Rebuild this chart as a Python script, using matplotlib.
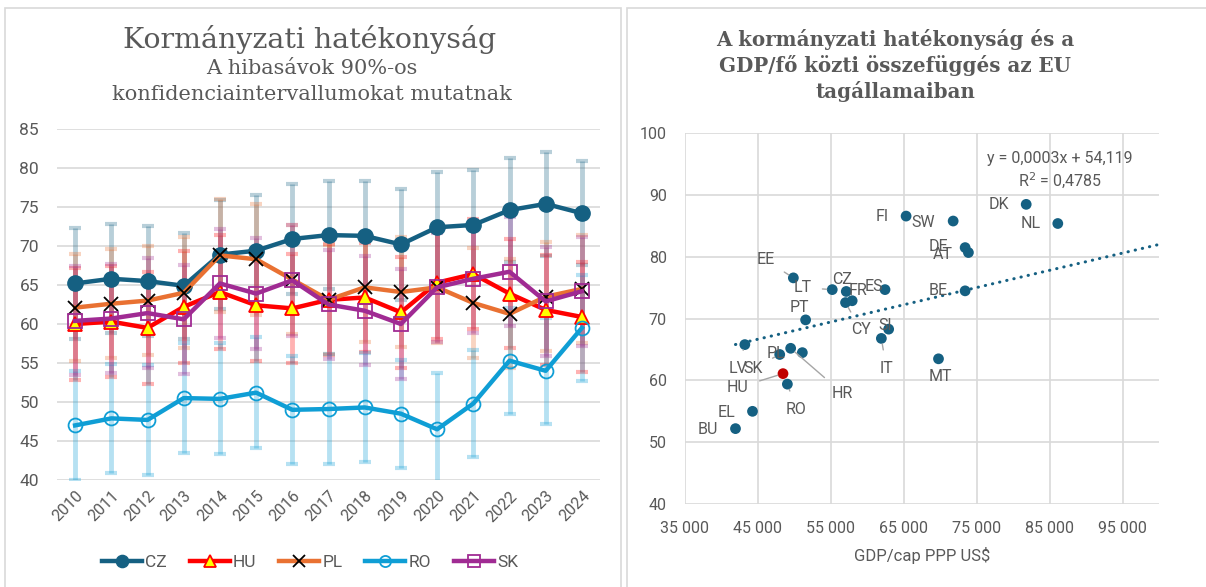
import matplotlib
matplotlib.use("Agg")
import matplotlib.pyplot as plt
from matplotlib.patches import Rectangle
from matplotlib.ticker import FuncFormatter


# -----------------------------
# Data: left chart (government effectiveness, 2010-2024)
# -----------------------------
YEARS = ["2010", "2011", "2012", "2013", "2014", "2015", "2016", "2017",
         "2018", "2019", "2020", "2021", "2022", "2023", "2024"]

CZ = [65.2, 65.8, 65.5, 64.9, 68.9, 69.4, 70.9, 71.4, 71.3, 70.2, 72.4, 72.7, 74.6, 75.4, 74.2]
HU = [60.0, 60.3, 59.5, 62.2, 64.1, 62.4, 62.0, 63.1, 63.4, 61.5, 65.3, 66.4, 63.9, 61.8, 60.9]
PL = [62.1, 62.6, 63.0, 64.0, 68.8, 68.3, 65.7, 63.1, 64.7, 64.1, 64.7, 62.7, 61.3, 63.5, 64.5]
RO = [47.0, 47.9, 47.7, 50.5, 50.4, 51.2, 49.0, 49.1, 49.3, 48.5, 46.5, 49.8, 55.3, 54.0, 59.5]
SK = [60.4, 60.7, 61.4, 60.6, 65.2, 63.9, 65.6, 62.5, 61.7, 60.0, 64.7, 65.8, 66.7, 62.9, 64.2]

CZ_ERR = [7.1, 7.0, 7.1, 6.8, 7.0, 7.1, 7.1, 6.9, 7.0, 7.1, 7.1, 7.0, 6.7, 6.7, 6.7]
HU_ERR = [7.2, 7.1, 7.2, 7.2, 7.3, 7.1, 7.0, 7.1, 7.0, 7.1, 7.2, 7.1, 7.0, 7.0, 7.0]
PL_ERR = [6.9, 7.0, 7.0, 7.1, 7.2, 7.1, 7.0, 7.0, 7.0, 7.0, 7.1, 7.0, 7.0, 7.0, 6.9]
RO_ERR = [7.0, 7.0, 7.1, 7.1, 7.1, 7.1, 6.9, 7.0, 7.0, 6.9, 7.2, 6.9, 6.8, 6.8, 6.8]
SK_ERR = [7.0, 7.0, 7.1, 7.0, 7.0, 7.1, 7.1, 7.0, 7.0, 7.1, 7.0, 7.0, 7.0, 7.0, 7.0]

# -----------------------------
# Data: right chart (GDP/cap vs government effectiveness)
# -----------------------------
COUNTRIES = ["FI", "SW", "DK", "NL", "DE", "AT", "BE", "ES", "FR", "CZ", "LT", "EE",
             "PT", "CY", "SI", "IT", "MT", "HR", "PL", "SK", "LV", "HU", "RO", "EL", "BU"]
GDP_CAP = [65300, 71750, 81760, 86090, 73390, 73840, 73390, 62410, 57910, 57100, 55180, 49850,
           51530, 57000, 62910, 61910, 69740, 49480, 51080, 47980, 43200, 48430, 49030, 44250, 41920]
GOV_EFF = [86.6, 85.8, 88.5, 85.4, 81.5, 80.7, 74.5, 74.7, 72.9, 74.4, 74.7, 76.6,
           69.8, 72.6, 68.3, 66.8, 63.5, 65.2, 64.5, 64.2, 65.8, 61.1, 59.4, 55.0, 52.2]

# trendline as printed on the chart
TREND_SLOPE = 0.000279
TREND_INTERCEPT = 54.119
TREND_LABEL = "y = 0,0003x + 54,119\nR$^2$ = 0,4785"

# label offsets in pixels (dx, dy), and whether a leader line is drawn
LABEL_POS = {
    "FI": (-24, 0, False), "SW": (-30, -1, False), "DK": (-27, 0, False),
    "NL": (-27, 0, False), "DE": (-27, 1, False), "AT": (-26, -2, False),
    "BE": (-27, 0, False), "ES": (-11, 3, False), "FR": (6, 10, False),
    "CZ": (-4, 12, False), "LT": (-30, 2, True), "EE": (-28, 18, True),
    "PT": (-6, 12, False), "CY": (15, -27, True), "SI": (-3, 4, False),
    "IT": (5, -30, True), "MT": (2, -18, False), "HR": (52, -45, True),
    "PL": (-26, -1, False), "SK": (-27, -14, True), "LV": (-7, -24, True),
    "HU": (-45, -14, True), "RO": (9, -25, True), "EL": (-26, -1, False),
    "BU": (-28, -1, False),
}

TEXT = "#595959"
GRID = "#d9d9d9"
SANS = ["Roboto", "DejaVu Sans"]

W, H = 1206, 587
fig = plt.figure(figsize=(W / 100, H / 100), dpi=100)
plt.rcParams["font.family"] = SANS

# panel borders
fig.patches.append(Rectangle((5 / W, -0.1), 616 / W, 1.1 - 8 / H, transform=fig.transFigure,
                             fill=False, edgecolor=GRID, lw=1.2))
fig.patches.append(Rectangle((627 / W, -0.1), 0.6, 1.1 - 8 / H, transform=fig.transFigure,
                             fill=False, edgecolor=GRID, lw=1.2))

# -----------------------------
# Left chart
# -----------------------------
ax = fig.add_axes([57 / W, 1 - 480 / H, 543 / W, 351 / H])
x = list(range(len(YEARS)))

series = [
    ("CZ", CZ, CZ_ERR, "#156082", dict(marker="o", ms=11, mfc="#156082", mec="#156082")),
    ("HU", HU, HU_ERR, "#ff0000", dict(marker="^", ms=10, mfc="#ffff00", mec="#ff0000", mew=1.3)),
    ("PL", PL, PL_ERR, "#e97132", dict(marker="x", ms=10, mec="black", mew=1.3)),
    ("RO", RO, RO_ERR, "#0f9ed5", dict(marker="o", ms=10, mfc="none", mec="#0f9ed5", mew=1.3)),
    ("SK", SK, SK_ERR, "#a02b93", dict(marker="s", ms=10, mfc="none", mec="#a02b93", mew=1.3)),
]

for name, vals, err, color, mk in series:
    ax.errorbar(x, vals, yerr=err, fmt="none", ecolor=color, alpha=0.3,
                elinewidth=3.5, capsize=4.5, capthick=3, zorder=2)

for name, vals, err, color, mk in series:
    ax.plot(x, vals, color=color, lw=3.2, label=name, zorder=3, **mk)

ax.set_xlim(-0.5, len(YEARS) - 0.5)
ax.set_ylim(40, 85)
ax.set_yticks(range(40, 86, 5))
ax.set_xticks(x)
ax.set_xticklabels(YEARS, rotation=45, ha="right", rotation_mode="anchor")
ax.tick_params(axis="y", length=0, pad=13, labelsize=12.5, labelcolor=TEXT)
ax.tick_params(axis="x", length=0, pad=6, labelsize=11.5, labelcolor=TEXT)
ax.grid(axis="y", color=GRID, lw=1.2)
ax.set_axisbelow(True)
for s in ax.spines.values():
    s.set_visible(False)

fig.text(310 / W, 1 - 39 / H, "Kormányzati hatékonyság", family="DejaVu Serif",
         fontsize=20.5, color=TEXT, ha="center", va="center")
fig.text(312 / W, 1 - 69 / H, "A hibasávok 90%-os", family="DejaVu Serif",
         fontsize=15, color=TEXT, ha="center", va="center")
fig.text(312 / W, 1 - 94 / H, "konfidenciaintervallumokat mutatnak", family="DejaVu Serif",
         fontsize=15, color=TEXT, ha="center", va="center")

fig.legend(loc="center", bbox_to_anchor=(310 / W, 1 - 562 / H), ncol=5, frameon=False,
           fontsize=12.5, labelcolor=TEXT, handlelength=2.3, handletextpad=0.2,
           columnspacing=1.3, markerscale=0.8)

# -----------------------------
# Right chart
# -----------------------------
bx = fig.add_axes([685 / W, 1 - 504 / H, 474.3 / W, 370.7 / H])
colors = ["#c00000" if c == "HU" else "#156082" for c in COUNTRIES]
bx.scatter(GDP_CAP, GOV_EFF, s=60, c=colors, zorder=3, linewidths=0)

trend_x = [min(GDP_CAP), 100000]
trend_y = [TREND_SLOPE * v + TREND_INTERCEPT for v in trend_x]
bx.plot(trend_x, trend_y, color="#156082", lw=2.2, linestyle=(0, (0.1, 2.3)),
        dash_capstyle="round", zorder=2)

for c, gx, gy in zip(COUNTRIES, GDP_CAP, GOV_EFF):
    dx, dy, leader = LABEL_POS[c]
    arrow = dict(arrowstyle="-", color="#a6a6a6", lw=1, shrinkA=6, shrinkB=4) if leader else None
    bx.annotate(c, (gx, gy), xytext=(dx * 0.72, dy * 0.72), textcoords="offset points",
                ha="center", va="center", fontsize=11.5, color=TEXT, arrowprops=arrow, zorder=4)

bx.annotate(TREND_LABEL, xy=(1060 / W, 1 - 171 / H), xycoords="figure fraction",
            ha="center", va="center", fontsize=11.5, color=TEXT, linespacing=1.25)

bx.set_xlim(35000, 100000)
bx.set_ylim(40, 100)
bx.set_xticks(range(35000, 100000, 10000))
bx.set_yticks(range(40, 101, 10))
bx.xaxis.set_major_formatter(FuncFormatter(lambda v, p: f"{int(v):,}".replace(",", " ")))
bx.tick_params(length=0, labelsize=11.5, labelcolor=TEXT)
bx.tick_params(axis="y", pad=13)
bx.tick_params(axis="x", pad=12)
bx.grid(color=GRID, lw=1.2)
bx.set_axisbelow(True)
for s in bx.spines.values():
    s.set_visible(False)
bx.set_xlabel("GDP/cap PPP US$", fontsize=12, color=TEXT, labelpad=8)

for i, line in enumerate(["A kormányzati hatékonyság és a",
                          "GDP/fő közti összefüggés az EU",
                          "tagállamaiban"]):
    fig.text(895 / W, 1 - (40 + 25.5 * i) / H, line, family="DejaVu Serif",
             fontweight="bold", fontsize=14.3, color=TEXT, ha="center", va="center")

fig.savefig("out.png", dpi=100)
